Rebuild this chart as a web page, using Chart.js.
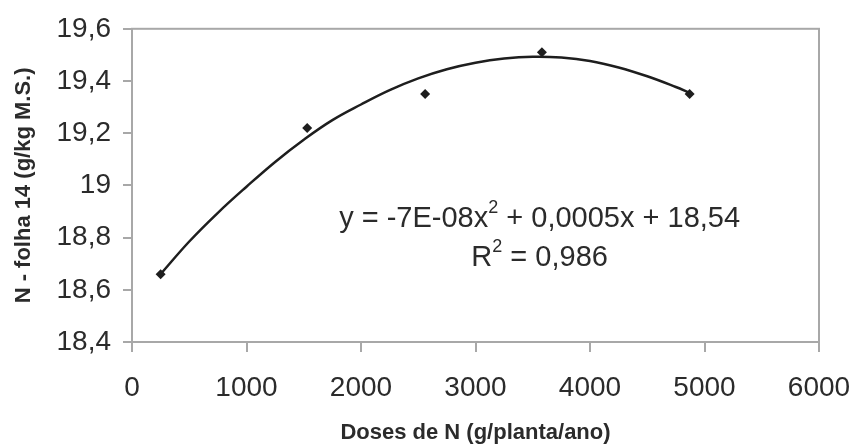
<!DOCTYPE html>
<html>
<head>
<meta charset="utf-8">
<script src="https://cdn.jsdelivr.net/npm/chart.js@4"></script>
<style>
  body { margin: 0; background: #fff; }
</style>
</head>
<body>
<canvas id="chart" width="852" height="444"></canvas>
<script>
// DATA
const doses = [250, 1530, 2560, 3580, 4870];
const nLeaf = [18.66, 19.22, 19.35, 19.51, 19.35];

// TREND LINE
const trendX = [250, 500, 750, 1000, 1250, 1500, 1750, 2000, 2250, 2500, 2750, 3000, 3250, 3500, 3750, 4000, 4250, 4500, 4750, 4870];
const trendY = [18.66, 18.785, 18.895, 18.995, 19.09, 19.175, 19.25, 19.31, 19.365, 19.41, 19.445, 19.47, 19.486, 19.493, 19.49, 19.477, 19.452, 19.418, 19.377, 19.355];

const xTicks = [0, 1000, 2000, 3000, 4000, 5000, 6000];
const yTicks = [18.4, 18.6, 18.8, 19.0, 19.2, 19.4, 19.6];

const eqLine1 = ["y = -7E-08x", "2", " + 0,0005x + 18,54"];
const eqLine2 = ["R", "2", " = 0,986"];

const FONT = "'Liberation Sans', Arial, sans-serif";
const TEXT = "#2b2b2b";
const FRAME = "#a8a8a8";

function comma(v) {
    return (Math.round(v * 10) / 10).toString().replace(".", ",");
}

// FRAME AROUND THE PLOT AREA
const framePlugin = {
    id: "frame",
    beforeDatasetsDraw(chart) {
        const a = chart.chartArea;
        const ctx = chart.ctx;
        ctx.save();
        ctx.strokeStyle = FRAME;
        ctx.lineWidth = 2;
        ctx.strokeRect(a.left, a.top, a.right - a.left, a.bottom - a.top);
        ctx.restore();
    }
};

// EQUATION TEXT WITH SUPERSCRIPTS
function drawSup(ctx, parts, cx, cy) {
    const big = "29px " + FONT;
    const small = "18px " + FONT;
    ctx.font = big;
    const w0 = ctx.measureText(parts[0]).width;
    const w2 = ctx.measureText(parts[2]).width;
    ctx.font = small;
    const w1 = ctx.measureText(parts[1]).width;
    let x = cx - (w0 + w1 + w2) / 2;
    ctx.textBaseline = "middle";
    ctx.textAlign = "left";
    ctx.font = big;
    ctx.fillText(parts[0], x, cy);
    x += w0;
    ctx.font = small;
    ctx.fillText(parts[1], x, cy - 11);
    x += w1;
    ctx.font = big;
    ctx.fillText(parts[2], x, cy);
}

const equationPlugin = {
    id: "equation",
    afterDraw(chart) {
        const ctx = chart.ctx;
        const xs = chart.scales.x;
        const ys = chart.scales.y;
        ctx.save();
        ctx.fillStyle = TEXT;
        drawSup(ctx, eqLine1, xs.getPixelForValue(3560), ys.getPixelForValue(18.87));
        drawSup(ctx, eqLine2, xs.getPixelForValue(3560), ys.getPixelForValue(18.72));
        ctx.restore();
    }
};

new Chart(document.getElementById("chart"), {
    type: "scatter",
    data: {
        datasets: [
            {
                label: "dados",
                data: doses.map((d, i) => ({ x: d, y: nLeaf[i] })),
                pointStyle: "rectRot",
                pointRadius: 5,
                backgroundColor: "#1e1e1e",
                borderColor: "#1e1e1e",
                borderWidth: 0,
                order: 1
            },
            {
                label: "tendência",
                data: trendX.map((d, i) => ({ x: d, y: trendY[i] })),
                showLine: true,
                pointRadius: 0,
                borderColor: "#1e1e1e",
                borderWidth: 2.5,
                tension: 0.4,
                fill: false,
                order: 2
            }
        ]
    },
    options: {
        responsive: false,
        animation: false,
        layout: { padding: { top: 28, right: 33, left: 0, bottom: 0 } },
        plugins: {
            legend: { display: false },
            tooltip: { enabled: false }
        },
        scales: {
            x: {
                type: "linear",
                min: 0,
                max: 6000,
                afterFit(scale) {
                    scale.height = 102;
                    scale.paddingLeft = 0;
                    scale.paddingRight = 0;
                },
                afterBuildTicks(scale) { scale.ticks = xTicks.map(v => ({ value: v })); },
                grid: { drawOnChartArea: false, color: FRAME, lineWidth: 2, tickLength: 10 },
                border: { color: FRAME, width: 2 },
                ticks: {
                    color: TEXT,
                    font: { family: FONT, size: 28 },
                    padding: 19,
                    maxRotation: 0,
                    callback: v => String(v)
                },
                title: {
                    display: true,
                    text: "Doses de N (g/planta/ano)",
                    color: TEXT,
                    font: { family: FONT, size: 22, weight: "bold" },
                    padding: { top: 0, bottom: -2 }
                }
            },
            y: {
                min: 18.4,
                max: 19.6,
                afterFit(scale) { scale.width = 132; },
                afterBuildTicks(scale) { scale.ticks = yTicks.map(v => ({ value: v })); },
                grid: { drawOnChartArea: false, color: FRAME, lineWidth: 2, tickLength: 9 },
                border: { color: FRAME, width: 2 },
                ticks: {
                    color: TEXT,
                    font: { family: FONT, size: 28 },
                    padding: 12,
                    callback: v => comma(v)
                },
                title: {
                    display: true,
                    text: "N - folha 14 (g/kg M.S.)",
                    color: TEXT,
                    font: { family: FONT, size: 22, weight: "bold" },
                    padding: { top: 11, bottom: 0 }
                }
            }
        }
    },
    plugins: [framePlugin, equationPlugin]
});
</script>
</body>
</html>
